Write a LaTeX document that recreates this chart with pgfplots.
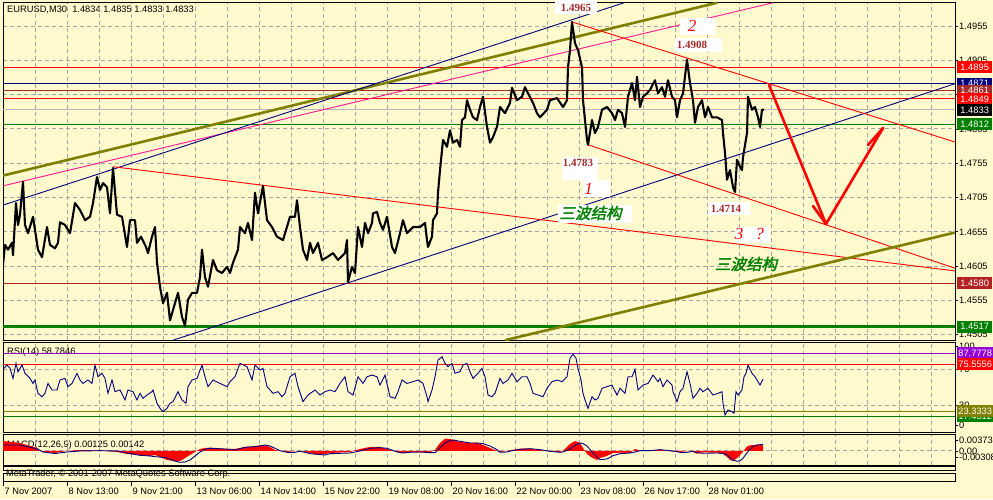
\documentclass[border=0pt]{standalone}
\usepackage{pgfplots}
\pgfplotsset{compat=1.18}
\usepackage{fontspec}
\setmainfont{Liberation Sans}
\newfontfamily\serif{Liberation Serif}
\newfontfamily\cjk[FakeSlant=0.22,FakeBold=2]{Noto Sans CJK SC}
\newcommand\tf{\fontsize{9.3}{10}\selectfont}
\newcommand\annfont{\serif\bfseries\fontsize{11}{12}\selectfont}
\newcommand\digfont{\serif\itshape\fontsize{17}{18}\selectfont}
\newcommand\cjkfont{\cjk\fontsize{15.5}{16}\selectfont}
\definecolor{bg}{HTML}{FFFACD}
\definecolor{gridc}{HTML}{A4A4A4}
\definecolor{mtnavy}{HTML}{000080}
\definecolor{mtbrown}{HTML}{A52A2A}
\definecolor{mtfire}{HTML}{B22222}
\definecolor{mtgreen}{HTML}{008000}
\definecolor{mtolive}{HTML}{808000}
\definecolor{mtpink}{HTML}{FF1493}
\definecolor{mtpurple}{HTML}{9400D3}
\definecolor{mtsilver}{HTML}{B8B8B8}
\definecolor{annot}{HTML}{A52A2A}
\pgfplotsset{
  mtpanel/.style={
    scale only axis, width=952pt, xmin=3, xmax=955,
    axis line style={black, line width=1pt},
    xtick={35.7,67.7,...,931.7}, xticklabels={}, xmajorgrids,
    ymajorgrids,
    major grid style={draw=gridc, line width=1pt, dash pattern=on 4pt off 3pt},
    ytick pos=right, yticklabel pos=right, tick align=outside,
    xtick style={draw opacity=0},
    ytick style={black, line width=0.8pt}, major tick length=3pt,
    yticklabel style={font=\tf, anchor=west, inner sep=0pt, xshift=1pt},
    scaled y ticks=false,
    anchor=north west,
    clip=true,
  }
}
\newcommand\pbox[4]{\node[fill=#2, text=white, font=\tf, minimum width=#4pt, minimum height=12pt, inner sep=0pt, anchor=west] at (957pt,-#1pt) {#3};}
\begin{document}
\begin{tikzpicture}
\useasboundingbox (0,0) rectangle (993pt,-499pt);
\clip (0,0) rectangle (993pt,-499pt);
\fill[bg] (0,0) rectangle (993pt,-499pt);
\node[anchor=west, font=\tf, inner sep=0pt] at (7pt,-10pt) {EURUSD,M30\ \ 1.4834 1.4835 1.4833 1.4833};
\node[anchor=west, font=\tf, inner sep=0pt] at (7pt,-351.7pt) {RSI(14) 58.7846};
\node[anchor=west, font=\tf, inner sep=0pt] at (7pt,-445pt) {MACD(12,26,9) 0.00125 0.00142};
% ---------------- main price panel
\begin{axis}[mtpanel, at={(3pt,-2pt)}, height=338pt, ymin=1.44973, ymax=1.49901,
  ytick={1.4505,1.4555,1.4605,1.4655,1.4705,1.4755,1.4805,1.4855,1.4905,1.4955},
  yticklabels={1.4505,1.4555,1.4605,1.4655,1.4705,1.4755,1.4805,1.4855,1.4905,1.4955}]
% horizontal levels
\addplot[red, line width=0.9pt] coordinates {(3,1.4895) (955,1.4895)};
\addplot[mtnavy, line width=0.9pt] coordinates {(3,1.4871) (955,1.4871)};
\addplot[mtbrown, line width=0.9pt] coordinates {(3,1.4861) (955,1.4861)};
\addplot[red, line width=0.9pt] coordinates {(3,1.4849) (955,1.4849)};
\addplot[mtsilver, line width=1pt] coordinates {(3,1.4833) (955,1.4833)};
\addplot[mtgreen, line width=0.9pt] coordinates {(3,1.4812) (955,1.4812)};
\addplot[mtfire, line width=0.9pt] coordinates {(3,1.4580) (955,1.4580)};
\addplot[mtgreen, line width=2.4pt] coordinates {(3,1.4517) (955,1.4517)};
% trend lines
\addplot[mtolive, line width=2.6pt] coordinates {(0,1.4736) (717,1.4989)};
\addplot[mtpink, line width=0.9pt] coordinates {(0,1.4721) (773,1.4989)};
\addplot[mtnavy, line width=0.9pt] coordinates {(3,1.4694) (624,1.4989)};
\addplot[mtnavy, line width=0.9pt] coordinates {(173,1.4497) (955,1.4871)};
\addplot[red, line width=0.9pt] coordinates {(113,1.4750) (955,1.4598)};
\addplot[red, line width=0.9pt] coordinates {(572,1.4961) (955,1.4786)};
\addplot[red, line width=0.9pt] coordinates {(588,1.4782) (955,1.4602)};
\addplot[mtolive, line width=2.6pt] coordinates {(505,1.4497) (955,1.4654)};
% price
\addplot[black, line width=2.1pt, line join=round] coordinates {
(3,1.4607)(5,1.4636)(8,1.4629)(12,1.4639)(13,1.4621)(16,1.4697)(18,1.4665)(20,1.4680)(23,1.4728)(25,1.4665)(28,1.4653)(32,1.4672)(33,1.4677)(38,1.4629)(42,1.4618)(47,1.4662)(50,1.4636)(55,1.4631)(58,1.4639)(60,1.4669)(65,1.4665)(70,1.4653)(75,1.4697)(80,1.4687)(85,1.4672)(90,1.4677)(93,1.4697)(97,1.4735)(100,1.4716)(103,1.4726)(107,1.4720)(110,1.4682)(113,1.4748)(117,1.4680)(122,1.4677)(127,1.4633)(130,1.4672)(135,1.4672)(137,1.4639)(141,1.4648)(146,1.4633)(148,1.4624)(152,1.4648)(155,1.4662)(157,1.4610)(160,1.4575)(163,1.4551)(167,1.4566)(170,1.4526)(173,1.4541)(178,1.4566)(182,1.4531)(185,1.4518)(188,1.4556)(192,1.4566)(197,1.4566)(200,1.4589)(202,1.4629)(205,1.4589)(208,1.4575)(213,1.4614)(217,1.4599)(222,1.4595)(227,1.4604)(230,1.4595)(233,1.4610)(238,1.4629)(240,1.4662)(245,1.4653)(248,1.4668)(252,1.4643)(255,1.4712)(258,1.4682)(263,1.4722)(267,1.4672)(272,1.4662)(277,1.4648)(283,1.4643)(290,1.4677)(295,1.4677)(297,1.4701)(300,1.4662)(303,1.4629)(307,1.4614)(310,1.4639)(313,1.4624)(318,1.4639)(322,1.4614)(327,1.4618)(333,1.4624)(338,1.4614)(345,1.4624)(347,1.4643)(348,1.4582)(352,1.4604)(355,1.4595)(358,1.4662)(362,1.4633)(365,1.4668)(368,1.4653)(372,1.4668)(373,1.4682)(377,1.4684)(380,1.4668)(383,1.4658)(387,1.4677)(392,1.4633)(395,1.4624)(400,1.4653)(403,1.4672)(407,1.4653)(413,1.4662)(420,1.4662)(425,1.4668)(427,1.4643)(428,1.4633)(432,1.4648)(433,1.4672)(437,1.4682)(438,1.4712)(440,1.4745)(442,1.4774)(443,1.4789)(447,1.4779)(450,1.4803)(453,1.4785)(457,1.4789)(460,1.4779)(462,1.4818)(465,1.4822)(467,1.4847)(470,1.4833)(473,1.4822)(477,1.4818)(480,1.4837)(483,1.4852)(487,1.4808)(490,1.4785)(493,1.4793)(497,1.4808)(500,1.4837)(505,1.4828)(510,1.4843)(512,1.4865)(517,1.4847)(522,1.4852)(525,1.4866)(528,1.4857)(533,1.4843)(537,1.4828)(540,1.4822)(547,1.4833)(550,1.4847)(557,1.4850)(563,1.4837)(567,1.4847)(568,1.4895)(570,1.4920)(572,1.4961)(575,1.4930)(578,1.4920)(582,1.4895)(583,1.4847)(587,1.4789)(588,1.4782)(592,1.4818)(595,1.4799)(598,1.4808)(602,1.4833)(607,1.4837)(612,1.4828)(615,1.4818)(618,1.4833)(622,1.4828)(625,1.4808)(628,1.4852)(632,1.4872)(635,1.4847)(637,1.4881)(640,1.4837)(643,1.4852)(647,1.4857)(650,1.4862)(655,1.4876)(658,1.4857)(662,1.4866)(665,1.4852)(668,1.4876)(672,1.4852)(675,1.4847)(677,1.4822)(680,1.4847)(683,1.4857)(687,1.4906)(690,1.4872)(693,1.4847)(695,1.4814)(698,1.4837)(702,1.4847)(705,1.4822)(708,1.4837)(712,1.4822)(717,1.4822)(722,1.4818)(723,1.4799)(725,1.4770)(727,1.4731)(730,1.4745)(733,1.4720)(735,1.4713)(737,1.4760)(740,1.4750)(742,1.4745)(743,1.4764)(747,1.4799)(748,1.4852)(752,1.4833)(755,1.4837)(758,1.4822)(760,1.4808)(762,1.4833)(764,1.4833)};
% forecast arrows
\addplot[red, line width=2.6pt, line cap=round, line join=round] coordinates {(769,1.48691) (826,1.46664) (883,1.48064)};
\addplot[red, line width=2.6pt, line cap=round] coordinates {(813,1.46927) (826,1.46664)};
\addplot[red, line width=2.6pt, line cap=round] coordinates {(868,1.47816) (883,1.48064)};
\end{axis}
% ---------------- RSI panel
\begin{axis}[mtpanel, at={(3pt,-342pt)}, height=90pt, ymin=0, ymax=100,
  ytick={30,70}, yticklabels={30,70},
  extra y ticks={7.8,95.5}, extra y tick labels={0,100}, extra y tick style={grid=none}]
\addplot[mtpurple, line width=0.9pt] coordinates {(3,87.7778) (955,87.7778)};
\addplot[red, line width=0.9pt] coordinates {(3,75.5556) (955,75.5556)};
\addplot[mtolive, line width=0.9pt] coordinates {(3,23.3333) (955,23.3333)};
\addplot[mtgreen, line width=0.9pt] coordinates {(3,17.4312) (955,17.4312)};
\addplot[mtnavy, line width=0.9pt] coordinates {
(3,69.7)(7,74.4)(10,70.7)(13,59.6)(16,76.3)(18,67)(22,74.4)(25,65.2)(30,59.6)(33,54)(35,57.8)(38,43)(42,39.2)(45,43)(48,54)(52,46.7)(57,46.7)(60,57.8)(65,59.6)(68,50.4)(72,54)(77,65.2)(80,57.8)(83,54)(88,57.8)(92,54)(95,74.4)(98,61.4)(102,65.2)(105,59.6)(108,43)(112,57.8)(115,44.8)(120,46.7)(125,35.6)(128,46.7)(133,44.8)(137,35.6)(140,43)(143,37.4)(147,41.1)(152,44.8)(153,46.7)(157,31.9)(160,26.3)(163,22.6)(167,26.3)(170,31.9)(173,33.7)(178,44.8)(182,35.6)(186,31.9)(188,50.4)(192,57.8)(197,59.6)(202,74.4)(205,61.4)(208,50.4)(213,57.8)(220,54)(227,50.4)(230,55.9)(235,61.4)(240,76.3)(247,72.6)(252,57.8)(255,74.4)(260,68.9)(263,70.7)(267,50.4)(273,43)(278,44.8)(282,39.2)(285,43)(290,61.4)(295,65.2)(298,50.4)(303,33.7)(308,41.1)(315,46.7)(320,41.1)(325,44.8)(330,46.7)(335,44.8)(340,54)(345,61.4)(348,44.8)(353,41.1)(358,61.4)(363,54)(367,61.4)(372,63.3)(377,61.4)(380,52.2)(385,63.3)(390,39.2)(395,37.4)(398,44.8)(402,57.8)(407,54)(413,55.9)(418,57.8)(423,54)(427,39.2)(428,33.7)(432,46.7)(435,61.4)(438,80)(442,83.7)(445,76.3)(448,72.6)(452,76.3)(455,65.2)(460,67)(463,74.4)(467,76.3)(470,67)(473,59.6)(478,65.2)(482,70.7)(485,61.4)(488,41.1)(492,39.2)(495,43)(500,59.6)(503,54)(508,57.8)(512,65.2)(517,55.9)(522,61.4)(527,61.4)(530,54)(533,43)(538,41.1)(543,39.2)(547,48.5)(552,55.9)(557,57.8)(562,55.9)(567,61.4)(570,81.9)(573,86.7)(576,81.9)(578,70.7)(581,57.8)(583,43)(585,35.6)(588,26.3)(592,39.2)(595,35.6)(598,37.4)(602,48.5)(607,50.4)(612,52.2)(617,41.1)(620,48.5)(625,43)(628,61.4)(632,61.4)(635,69.7)(638,46.7)(643,52.2)(648,54)(653,63.3)(658,55.9)(660,59.6)(663,50.4)(667,57.8)(672,52.2)(673,44.8)(677,33.7)(680,44.8)(683,48.5)(687,67)(690,54)(693,37.4)(697,43)(700,48.5)(703,44.8)(708,48.5)(713,41.1)(718,43)(722,44.8)(723,31.9)(725,18.9)(728,24.4)(732,22.6)(734,20.8)(736,44.8)(738,41.1)(742,46.7)(744,61.4)(746,65.2)(748,74.4)(752,65.2)(755,61.4)(758,55.9)(760,52.2)(763,58.8)};
\end{axis}
% ---------------- MACD panel
\begin{axis}[mtpanel, at={(3pt,-434pt)}, height=31pt, ymin=-0.00308, ymax=0.00373,
  ytick={0}, yticklabels={0.00},
  extra y ticks={0.00226,-0.00132}, extra y tick labels={0.00373,-0.00308}, extra y tick style={grid=none}]
\addplot[draw=none, fill=red] coordinates {
(3,0.00220)(20,0.00176)(37,0.00066)(43,-0.00022)(55,-0.00044)(67,0)(80,0.00022)(100,0.00011)(117,-0.00022)(127,-0.00066)(140,-0.00088)(150,-0.00110)(155,-0.00088)(160,-0.00132)(167,-0.00198)(175,-0.00227)(180,-0.00220)(185,-0.00154)(190,-0.00088)(195,-0.00022)(200,0.00044)(205,0.00066)(210,0.00073)(217,0.00066)(225,0.00044)(235,0.00044)(245,0.00088)(255,0.00110)(265,0.00125)(270,0.00088)(275,0.00022)(280,0)(287,-0.00022)(295,0)(300,0)(305,-0.00022)(310,-0.00044)(318,-0.00088)(325,-0.00066)(330,-0.00044)(350,-0.00022)(360,0.00044)(370,0.00088)(380,0.00088)(387,0.00044)(397,-0.00015)(402,-0.00044)(410,-0.00022)(420,-0.00029)(430,-0.00022)(435,0.00022)(440,0.00176)(445,0.00271)(450,0.00264)(453,0.00242)(460,0.00198)(470,0.00176)(477,0.00183)(483,0.00132)(490,0.00066)(497,0)(500,-0.00022)(507,0)(512,0.00022)(520,0.00051)(530,0.00051)(540,0.00022)(550,-0.00015)(560,-0.00022)(563,0)(570,0.00154)(575,0.00220)(580,0.00176)(583,0.00066)(587,-0.00066)(592,-0.00147)(597,-0.00198)(600,-0.00154)(607,-0.00110)(613,-0.00044)(620,-0.00037)(630,-0.00044)(635,0.00044)(640,0.00007)(650,0)(660,0.00029)(673,-0.00015)(680,-0.00022)(687,0)(693,-0.00022)(697,-0.00059)(703,-0.00029)(717,-0.00037)(723,-0.00066)(727,-0.00132)(730,-0.00198)(733,-0.00220)(737,-0.00154)(740,-0.00088)(743,-0.00015)(747,0.00100)(750,0.00125)(753,0.00130)(757,0.00130)(763,0.00125)} \closedcycle;
\addplot[mtnavy, line width=0.9pt] coordinates {
(3,0.00132)(20,0.00132)(37,0.00044)(43,-0.00022)(55,-0.00055)(67,-0.00022)(80,0)(100,0.00007)(117,0)(127,-0.00044)(140,-0.00095)(150,-0.00110)(155,-0.00125)(160,-0.00132)(167,-0.00154)(175,-0.00220)(180,-0.00249)(185,-0.00242)(190,-0.00198)(195,-0.00110)(200,-0.00022)(205,0.00037)(210,0.00059)(217,0.00051)(225,0.00044)(235,0.00022)(245,0.00081)(255,0.00095)(265,0.00132)(270,0.00110)(275,0.00059)(280,0.00007)(287,-0.00029)(295,-0.00029)(300,-0.00007)(305,-0.00029)(310,-0.00059)(318,-0.00073)(325,-0.00088)(330,-0.00059)(350,-0.00044)(360,0)(370,0.00059)(380,0.00073)(387,0.00059)(397,-0.00022)(402,-0.00044)(410,-0.00029)(420,-0.00022)(430,-0.00037)(435,-0.00037)(440,0.00073)(445,0.00176)(450,0.00227)(453,0.00242)(460,0.00213)(470,0.00176)(477,0.00176)(483,0.00161)(490,0.00110)(497,0.00029)(500,-0.00029)(507,-0.00022)(512,0.00007)(520,0.00037)(530,0.00051)(540,0.00029)(550,-0.00007)(560,-0.00029)(563,-0.00022)(570,0.00044)(575,0.00125)(580,0.00176)(583,0.00161)(587,0.00110)(592,-0.00022)(597,-0.00132)(600,-0.00191)(607,-0.00176)(613,-0.00103)(620,-0.00059)(630,-0.00044)(635,-0.00022)(640,0.00007)(650,0.00007)(660,0.00029)(673,0)(680,-0.00029)(687,-0.00029)(693,-0.00007)(697,-0.00037)(703,-0.00051)(717,-0.00044)(723,-0.00051)(727,-0.00088)(730,-0.00147)(733,-0.00198)(737,-0.00227)(740,-0.00213)(743,-0.00161)(747,-0.00040)(750,0.00040)(753,0.00100)(757,0.00135)(763,0.00142)};
\end{axis}
% ---------------- bottom strips and time axis
\draw[black, line width=1pt] (3pt,-466.5pt) rectangle (955pt,-470.5pt);
\begin{axis}[scale only axis, anchor=north west, at={(3pt,-473.5pt)}, width=952pt, height=8pt,
  xmin=3, xmax=955, ymin=0, ymax=1, ytick=\empty,
  axis line style={black, line width=1pt},
  xtick={3,67,...,707},
  xticklabels={7 Nov 2007,8 Nov 13:00,9 Nov 21:00,13 Nov 06:00,14 Nov 14:00,15 Nov 22:00,19 Nov 08:00,20 Nov 16:00,22 Nov 00:00,23 Nov 08:00,26 Nov 17:00,28 Nov 01:00},
  xtick pos=bottom, tick align=outside, major tick length=4pt,
  xtick style={black, line width=0.8pt},
  xticklabel style={font=\tf, anchor=north west, inner sep=0pt, xshift=1.5pt, yshift=-2pt}]
\end{axis}
\node[anchor=west, font=\tf, inner sep=0pt] at (6pt,-474pt) {MetaTrader, \textcopyright\ 2001-2007 MetaQuotes Software Corp.};
% ---------------- price boxes on right scale
\pbox{67.2}{red}{1.4895}{35}
\pbox{83.7}{mtnavy}{1.4871}{35}
\pbox{90.5}{mtbrown}{1.4861}{35}
\pbox{98.8}{red}{1.4849}{35}
\pbox{109.8}{black}{1.4833}{35}
\pbox{124.2}{mtgreen}{1.4812}{35}
\pbox{283.3}{mtfire}{1.4580}{35}
\pbox{326.5}{mtgreen}{1.4517}{35}
\pbox{353}{mtpurple}{87.7778}{36}
\pbox{364}{red}{75.5556}{36}
\pbox{416.3}{mtgreen}{17.4312}{36}
\pbox{411}{mtolive}{23.3333}{36}
% ---------------- annotations
\node[fill=white, minimum width=42pt, minimum height=14pt, inner sep=0pt] at (576pt,-7pt) {};
\node[font=\annfont, text=annot, inner sep=0pt] at (576pt,-8pt) {1.4965};
\node[fill=white, minimum width=35pt, minimum height=17pt, inner sep=0pt] at (697.5pt,-26.5pt) {};
\node[font=\digfont, text=red, inner sep=0pt] at (692pt,-26pt) {2};
\node[fill=white, minimum width=47pt, minimum height=14pt, inner sep=0pt] at (698.5pt,-45pt) {};
\node[font=\annfont, text=annot, inner sep=0pt] at (692pt,-45pt) {1.4908};
\node[fill=white, minimum width=36pt, minimum height=23pt, inner sep=0pt] at (580pt,-168.5pt) {};
\node[font=\annfont, text=annot, inner sep=0pt] at (578pt,-163pt) {1.4783};
\node[fill=white, minimum width=27pt, minimum height=17pt, inner sep=0pt] at (596.5pt,-188.5pt) {};
\node[font=\digfont, text=red, inner sep=0pt] at (588.5pt,-189pt) {1};
\node[fill=white, minimum width=74pt, minimum height=18pt, inner sep=0pt] at (595pt,-214pt) {};
\node[font=\cjkfont, text=mtgreen, inner sep=0pt] at (590.5pt,-213pt) {三波结构};
\node[fill=white, minimum width=42pt, minimum height=13pt, inner sep=0pt] at (729pt,-208.3pt) {};
\node[font=\annfont, text=annot, inner sep=0pt] at (726pt,-209pt) {1.4714};
\node[fill=white, minimum width=35pt, minimum height=16pt, inner sep=0pt] at (752.5pt,-235pt) {};
\node[font=\digfont, text=red, inner sep=0pt] at (739pt,-234pt) {3};
\node[font=\digfont, text=red, inner sep=0pt] at (759.7pt,-234pt) {?};
\node[font=\cjkfont, text=mtgreen, inner sep=0pt] at (746pt,-264pt) {三波结构};
\end{tikzpicture}
\end{document}
